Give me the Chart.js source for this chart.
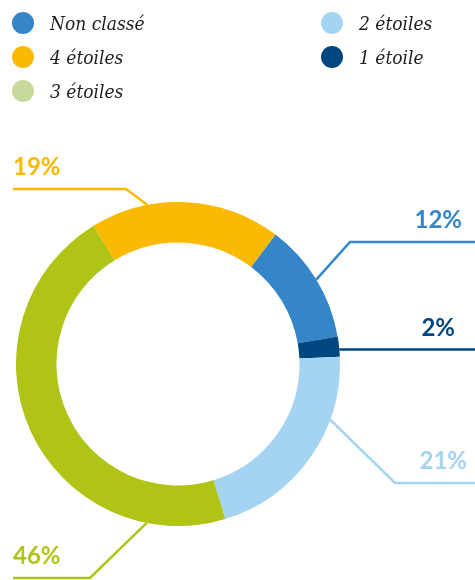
<!DOCTYPE html>
<html>
<head>
<meta charset="utf-8">
<script src="https://cdn.jsdelivr.net/npm/chart.js@4.4.1/dist/chart.umd.min.js"></script>
<style>
  html, body { margin: 0; padding: 0; background: #fff; }
  #wrap { position: relative; width: 475px; height: 580px; overflow: hidden; }
  #graficoDonut { position: absolute; left: 0; top: 0; }
  #legenda {
    position: absolute; left: 12px; top: 12px;
    display: grid; grid-auto-flow: column;
    grid-template-columns: 309px auto;
    grid-template-rows: 22px 22px 22px;
    row-gap: 12px;
    font-family: "DejaVu Serif Condensed", "DejaVu Serif", serif; font-style: italic; font-size: 19px; color: #1e1e1e;
  }
  .item { display: flex; align-items: center; height: 22px; }
  .bola { width: 22px; height: 22px; border-radius: 50%; margin-right: 16px; flex: none; }
</style>
</head>
<body>
<div id="wrap">
  <canvas id="graficoDonut" width="475" height="580"></canvas>
  <div id="legenda"></div>
</div>
<script>
// dados
var categorias = ['Non classé', '1 étoile', '2 étoiles', '3 étoiles', '4 étoiles'];
var percentuais = [12, 2, 21, 46, 19];
var cores = ['#3586c8', '#00467f', '#a5d3f2', '#b0c416', '#fbb900'];
// a legenda usa outra cor para 3 étoiles, como no original
var coresLegenda = ['#3586c8', '#00467f', '#a5d3f2', '#c8d99c', '#fbb900'];
var ordemLegenda = ['Non classé', '4 étoiles', '3 étoiles', '2 étoiles', '1 étoile'];

// posição das linhas de chamada (fração do arco, cotovelo, fim da linha, texto)
var chamadas = [
    { f: 0.5,  ex: 350, ey: 242, fim: 475, tx: 462, alinha: 'right' },
    { f: 0.65, ex: null, ey: null, fim: 475, tx: 455, alinha: 'right' },
    { f: 0.3,  ex: 395, ey: 483, fim: 475, tx: 467, alinha: 'right' },
    { f: 0.17, ex: 90,  ey: 578, fim: 13,  tx: 13,  alinha: 'left' },
    { f: 0.3,  ex: 126, ey: 189, fim: 13,  tx: 13,  alinha: 'left' }
];

var pluginChamadas = {
    id: 'chamadas',
    afterDatasetsDraw: function(chart) {
        var ctx = chart.ctx;
        var arcos = chart.getDatasetMeta(0).data;
        arcos.forEach(function(arco, i) {
            var c = chamadas[i];
            var p = arco.getProps(['x', 'y', 'startAngle', 'endAngle', 'outerRadius'], true);
            var a = p.startAngle + c.f * (p.endAngle - p.startAngle);
            var ax = p.x + Math.cos(a) * p.outerRadius;
            var ay = p.y + Math.sin(a) * p.outerRadius;
            var ex = c.ex === null ? ax : c.ex;
            var ey = c.ey === null ? ay : c.ey;
            ctx.save();
            ctx.strokeStyle = cores[i];
            ctx.lineWidth = 2.5;
            ctx.beginPath();
            ctx.moveTo(ax, ay);
            ctx.lineTo(ex, ey);
            ctx.lineTo(c.fim, ey);
            ctx.stroke();
            ctx.fillStyle = cores[i];
            ctx.font = 'bold 24px Lato';
            ctx.textAlign = c.alinha;
            ctx.textBaseline = 'alphabetic';
            ctx.fillText(percentuais[i] + '%', c.tx, ey - 14);
            ctx.restore();
        });
    }
};

var ctxDonut = document.getElementById('graficoDonut').getContext('2d');
var grafico = new Chart(ctxDonut, {
    type: 'doughnut',
    data: {
        labels: categorias,
        datasets: [{
            data: percentuais,
            backgroundColor: cores,
            borderWidth: 0
        }]
    },
    options: {
        responsive: false,
        animation: false,
        rotation: 37,
        cutout: '75%',
        layout: { padding: { left: 16, right: 135, top: 202, bottom: 54 } },
        plugins: {
            legend: { display: false },
            tooltip: { enabled: false }
        }
    },
    plugins: [pluginChamadas]
});

// legenda em html
var legenda = document.getElementById('legenda');
ordemLegenda.forEach(function(nome) {
    var i = categorias.indexOf(nome);
    var item = document.createElement('div');
    item.className = 'item';
    var bola = document.createElement('span');
    bola.className = 'bola';
    bola.style.background = coresLegenda[i];
    var texto = document.createElement('span');
    texto.textContent = nome;
    item.appendChild(bola);
    item.appendChild(texto);
    legenda.appendChild(item);
});
</script>
</body>
</html>
